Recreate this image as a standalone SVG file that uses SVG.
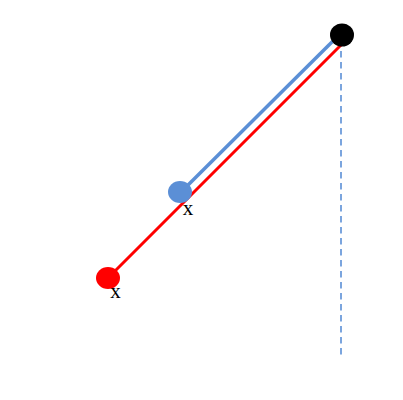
<svg xmlns="http://www.w3.org/2000/svg" width="403" height="400" viewBox="0 0 403 400">
<style>
.lbl{font-family:"Liberation Serif",serif;font-size:21px;fill:#000;text-anchor:middle}
</style>
<rect width="403" height="400" fill="#fff"/>
<g id="connectors">
<line x1="341" y1="40" x2="341" y2="356" stroke="#5b8fd6" stroke-width="1.6" stroke-dasharray="6.5,4.5"/>
<line x1="108" y1="278" x2="341" y2="45" stroke="#ff0000" stroke-width="3"/>
<line x1="180" y1="193" x2="337" y2="37" stroke="#5b8fd6" stroke-width="3.5"/>
</g>
<g id="node-black"><ellipse cx="342" cy="35" rx="12" ry="11.5" fill="#000"/></g>
<g id="node-blue"><ellipse cx="180" cy="192" rx="12" ry="11" fill="#5b8fd6"/><text class="lbl" x="188" y="215">x</text></g>
<g id="node-red"><ellipse cx="108" cy="278" rx="12" ry="11" fill="#ff0000"/><text class="lbl" x="115.5" y="298">x</text></g>
</svg>
